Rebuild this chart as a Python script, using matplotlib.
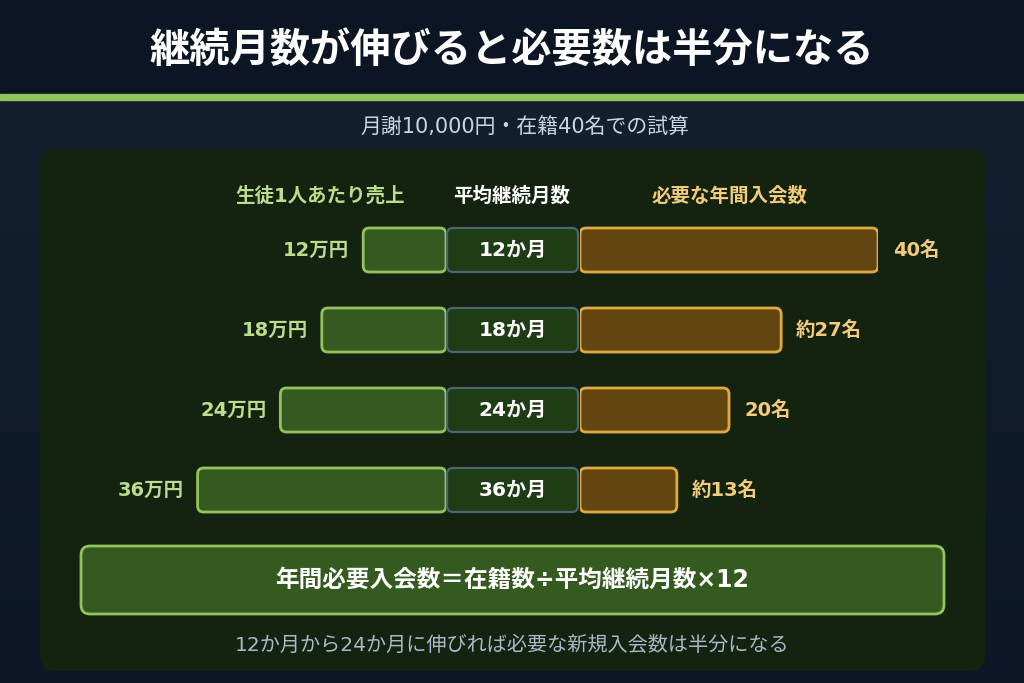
import numpy as np
import matplotlib
matplotlib.use("Agg")
import matplotlib.pyplot as plt
from matplotlib.patches import FancyBboxPatch, Rectangle
from matplotlib.colors import LinearSegmentedColormap

# wide latin digits first, Japanese glyphs fall back to Noto
plt.rcParams['font.family'] = ['DejaVu Sans', 'Noto Sans CJK JP']

# data
title = "継続月数が伸びると必要数は半分になる"
subtitle = "月謝10,000円・在籍40名での試算"
headers = ["生徒1人あたり売上", "平均継続月数", "必要な年間入会数"]
months = [12, 18, 24, 36]
revenue_man = [12, 18, 24, 36]            # 万円
revenue_labels = ["12万円", "18万円", "24万円", "36万円"]
month_labels = ["12か月", "18か月", "24か月", "36か月"]
joins = [40, 27, 20, 13]                  # 名
join_labels = ["40名", "約27名", "20名", "約13名"]
formula = "年間必要入会数＝在籍数÷平均継続月数×12"
note = "12か月から24か月に伸びれば必要な新規入会数は半分になる"

# colours
BG_TOP = "#0b1524"
GREEN_LINE = "#94c35e"
PANEL = "#14230f"
LEFT_FILL, LEFT_EDGE, LEFT_TXT = "#355a1f", "#94c35e", "#bcdc8e"
MID_FILL, MID_EDGE = "#1f3d14", "#4d6677"
RIGHT_FILL, RIGHT_EDGE, RIGHT_TXT = "#634512", "#e2a942", "#f2cb7c"

W, H = 1024, 683
fig = plt.figure(figsize=(W / 100, H / 100), dpi=100)

# base axes in pixel units
ax = fig.add_axes([0, 0, 1, 1])
ax.set_xlim(0, W)
ax.set_ylim(H, 0)
ax.axis("off")

grad = np.linspace(0, 1, 256).reshape(-1, 1)
cmap = LinearSegmentedColormap.from_list("bg", ["#14202f", "#0d1726"])
ax.imshow(grad, cmap=cmap, extent=[0, W, H, 97], aspect="auto", zorder=0)
ax.add_patch(Rectangle((0, 0), W, 95, color=BG_TOP, zorder=1))
ax.add_patch(Rectangle((0, 94), W, 6, color=GREEN_LINE, zorder=2))

ax.text(512, 51, title, color="white", fontsize=29, fontweight="bold",
        ha="center", va="center", zorder=3)
ax.text(525, 128, subtitle, color="#c9d6e3", fontsize=15,
        ha="center", va="center", zorder=3)

ax.add_patch(FancyBboxPatch((40, 148), 945, 523,
                            boxstyle="round,pad=0,rounding_size=16",
                            fc=PANEL, ec="none", zorder=1))

# column headers
hdr = dict(fontsize=14, fontweight="bold", ha="center", va="center", zorder=3)
ax.text(320, 196, headers[0], color=LEFT_TXT, **hdr)
ax.text(512, 196, headers[1], color="white", **hdr)
ax.text(730, 196, headers[2], color=RIGHT_TXT, **hdr)

row_y = [250, 330, 410, 490]
bar_h = 44

# left bars: revenue, extending leftwards from x=446
lx0, lx1 = 170, 446
axl = fig.add_axes([lx0 / W, 0, (lx1 - lx0) / W, 1])
axl.set_xlim(40, 0)
axl.set_ylim(H, 0)
axl.axis("off")
axl.patch.set_alpha(0)
l_upp = 40 / (lx1 - lx0)

# right bars: joins, extending rightwards from x=580
rx0, rx1 = 580, 878
axr = fig.add_axes([rx0 / W, 0, (rx1 - rx0) / W, 1])
axr.set_xlim(0, 40)
axr.set_ylim(H, 0)
axr.axis("off")
axr.patch.set_alpha(0)
r_upp = 40 / (rx1 - rx0)

rad = 6
for i, y in enumerate(row_y):
    # left
    axl.add_patch(FancyBboxPatch((0, y - bar_h / 2), revenue_man[i], bar_h,
                                 boxstyle=f"round,pad=0,rounding_size={rad * l_upp}",
                                 mutation_aspect=1 / l_upp,
                                 fc=LEFT_FILL, ec=LEFT_EDGE, lw=2, zorder=2))
    axl.annotate(revenue_labels[i], (revenue_man[i], y), xytext=(-14, 0),
                 textcoords="offset pixels", ha="right", va="center",
                 color=LEFT_TXT, fontsize=14, fontweight="bold")
    # middle
    ax.add_patch(FancyBboxPatch((447, y - bar_h / 2), 131, bar_h,
                                boxstyle=f"round,pad=0,rounding_size={rad}",
                                fc=MID_FILL, ec=MID_EDGE, lw=1.6, zorder=2))
    ax.text(513, y, month_labels[i], color="white", fontsize=14.5,
            fontweight="bold", ha="center", va="center", zorder=3)
    # right
    axr.add_patch(FancyBboxPatch((0, y - bar_h / 2), joins[i], bar_h,
                                 boxstyle=f"round,pad=0,rounding_size={rad * r_upp}",
                                 mutation_aspect=1 / r_upp,
                                 fc=RIGHT_FILL, ec=RIGHT_EDGE, lw=2, zorder=2))
    axr.annotate(join_labels[i], (joins[i], y), xytext=(15, 0),
                 textcoords="offset pixels", ha="left", va="center",
                 color=RIGHT_TXT, fontsize=14, fontweight="bold")

# formula box
ax.add_patch(FancyBboxPatch((81, 546), 863, 68,
                            boxstyle="round,pad=0,rounding_size=9",
                            fc=LEFT_FILL, ec=LEFT_EDGE, lw=2, zorder=2))
ax.text(512, 580, formula, color="white", fontsize=17, fontweight="bold",
        ha="center", va="center", zorder=3)

ax.text(512, 645, note, color="#aab9c9", fontsize=14.5,
        ha="center", va="center", zorder=3)

fig.savefig("out.png", dpi=100, facecolor=BG_TOP)
